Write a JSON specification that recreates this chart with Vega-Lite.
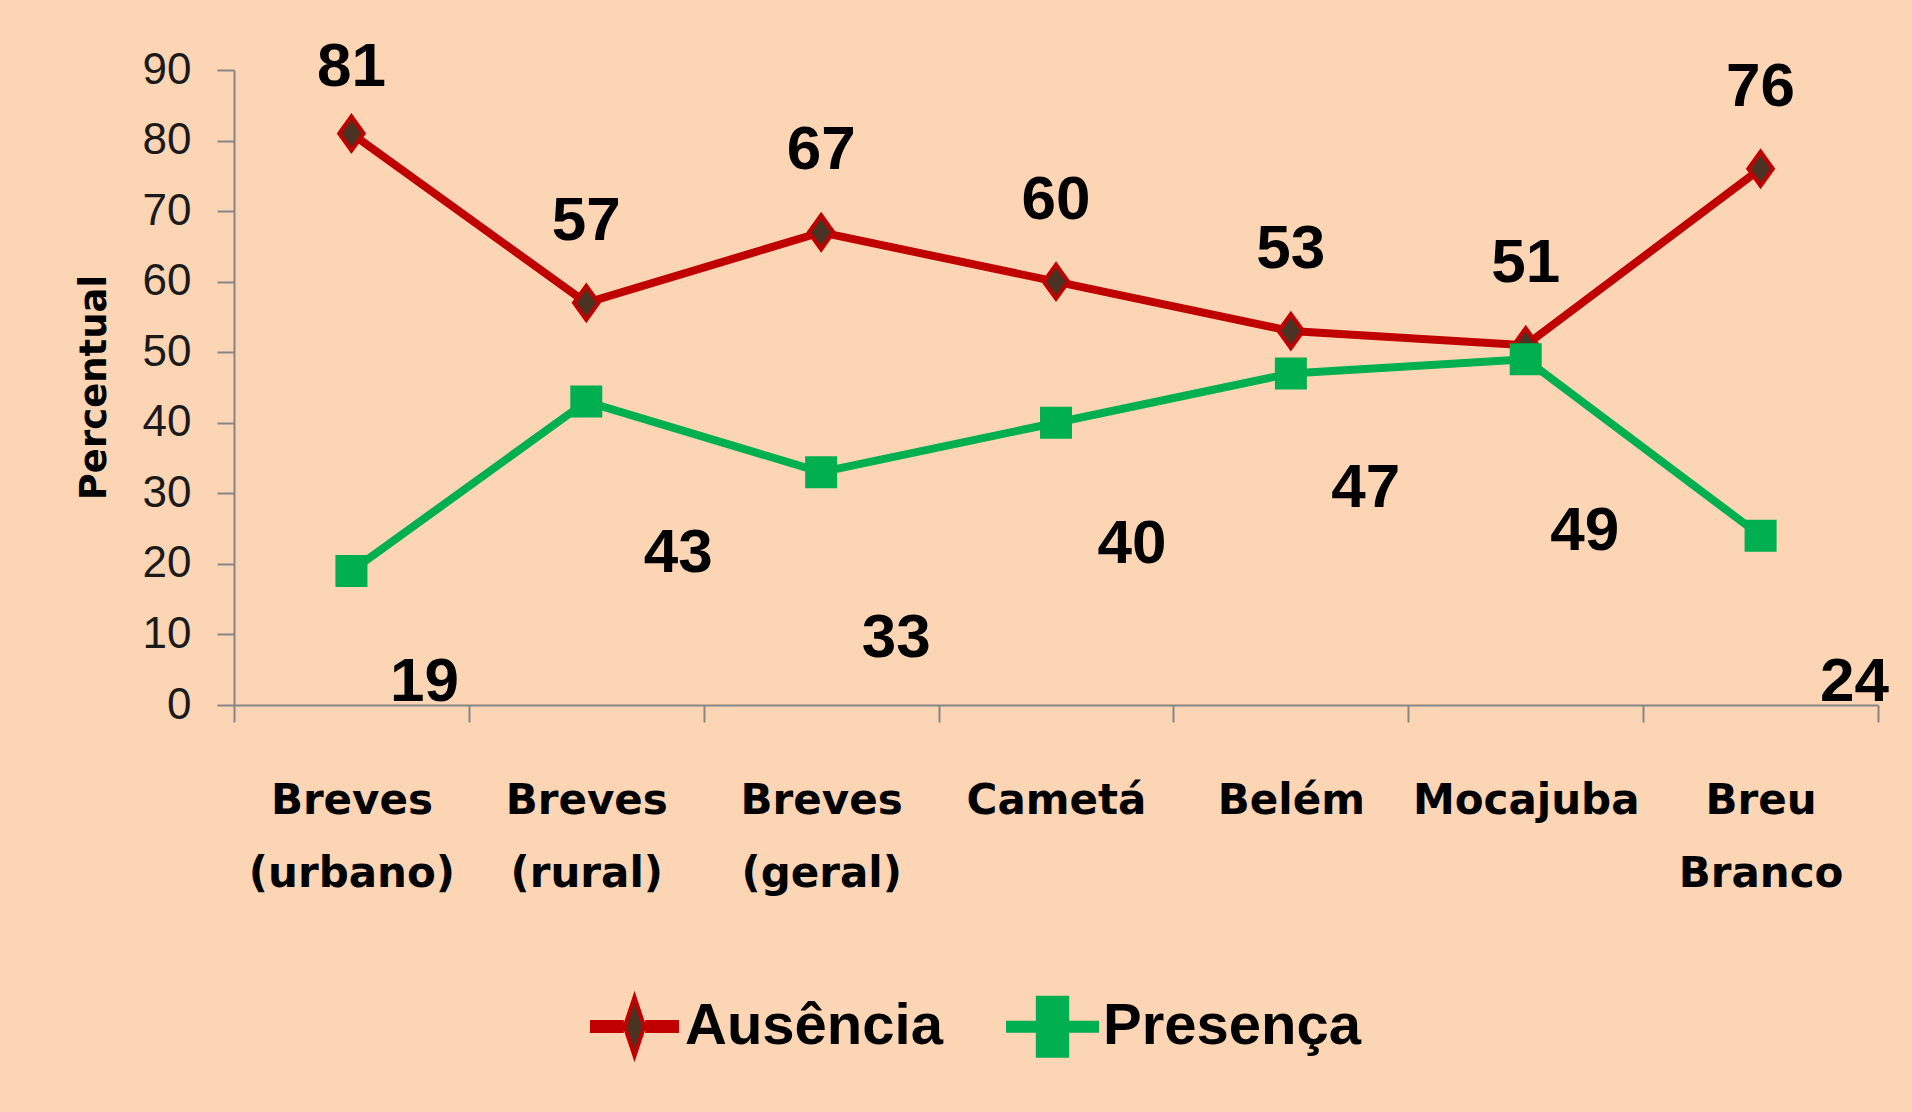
{
  "$schema": "https://vega.github.io/schema/vega-lite/v6.json",
  "width": 1644,
  "height": 635,
  "autosize": {"type": "none"},
  "padding": {"left": 234, "top": 70, "right": 34, "bottom": 407},
  "background": "#FCD5B5",
  "config": {"view": {"stroke": null}},
  "data": {
    "values": [
      {"local": "Breves (urbano)", "serie": "Ausência", "valor": 81},
      {"local": "Breves (rural)", "serie": "Ausência", "valor": 57},
      {"local": "Breves (geral)", "serie": "Ausência", "valor": 67},
      {"local": "Cametá", "serie": "Ausência", "valor": 60},
      {"local": "Belém", "serie": "Ausência", "valor": 53},
      {"local": "Mocajuba", "serie": "Ausência", "valor": 51},
      {"local": "Breu Branco", "serie": "Ausência", "valor": 76},
      {"local": "Breves (urbano)", "serie": "Presença", "valor": 19},
      {"local": "Breves (rural)", "serie": "Presença", "valor": 43},
      {"local": "Breves (geral)", "serie": "Presença", "valor": 33},
      {"local": "Cametá", "serie": "Presença", "valor": 40},
      {"local": "Belém", "serie": "Presença", "valor": 47},
      {"local": "Mocajuba", "serie": "Presença", "valor": 49},
      {"local": "Breu Branco", "serie": "Presença", "valor": 24}
    ]
  },
  "encoding": {
    "x": {
      "field": "local", "type": "nominal", "sort": null,
      "scale": {"type": "band", "paddingInner": 0, "paddingOuter": 0},
      "axis": {
        "title": null, "tickBand": "extent", "grid": false,
        "domainColor": "#868686", "domainWidth": 2,
        "tickColor": "#868686", "tickWidth": 2, "tickSize": 17,
        "labelAngle": 0, "labelFont": "DejaVu Sans", "labelFontWeight": "bold",
        "labelFontSize": 42, "labelColor": "#000000", "labelPadding": 58,
        "labelLineHeight": 73, "labelLimit": 0, "labelOverlap": false, "labelBaseline": "top",
        "labelExpr": "datum.label == 'Breu Branco' ? ['Breu', 'Branco'] : indexof(datum.label, ' (') > 0 ? [slice(datum.label, 0, indexof(datum.label, ' (')), slice(datum.label, indexof(datum.label, ' (') + 1)] : datum.label"
      }
    },
    "y": {
      "field": "valor", "type": "quantitative",
      "scale": {"domain": [0, 90], "nice": false},
      "axis": {
        "title": "Percentual", "values": [0, 10, 20, 30, 40, 50, 60, 70, 80, 90], "grid": false,
        "domainColor": "#868686", "domainWidth": 2,
        "tickColor": "#868686", "tickWidth": 2, "tickSize": 17,
        "labelFont": "Liberation Sans Narrow, Liberation Sans", "labelFontSize": 44, "labelColor": "#1a1a1a", "labelPadding": 26,
        "titleFont": "DejaVu Sans", "titleFontSize": 37, "titleFontWeight": "bold", "titleColor": "#000000",
        "titleX": -140, "titleY": 317, "titleAngle": -90, "titleAlign": "center", "titleBaseline": "middle"
      }
    }
  },
  "layer": [
    {
      "mark": {"type": "line", "strokeWidth": 8},
      "encoding": {
        "color": {
          "field": "serie", "type": "nominal",
          "scale": {"domain": ["Ausência", "Presença"], "range": ["#C00000", "#00B050"]},
          "legend": {
            "title": null, "orient": "none", "legendX": 354, "legendY": 910, "direction": "horizontal",
            "symbolSize": 7921, "symbolStrokeWidth": 4,
            "labelFont": "Liberation Sans", "labelFontSize": 58, "labelFontWeight": "bold", "labelColor": "#000000",
            "labelLimit": 0, "labelOffset": 4, "columnPadding": 57,
            "encode": {
              "symbols": {
                "update": {
                  "shape": {"signal": "datum.value === 'Ausência' ? 'M-1,0H-0.26M0.26,0H1M-1,-0.05H-0.25M0.25,-0.05H1M-1,0.05H-0.25M0.25,0.05H1M-1,-0.1H-0.24M0.24,-0.1H1M-1,0.1H-0.24M0.24,0.1H1M0,-0.66L0.22,0L0,0.66L-0.22,0Z' : 'M-1,-0.09H1V0.09H-1ZM-0.33,-0.65H0.33V0.65H-0.33Z'"},
                  "fill": {"signal": "datum.value === 'Ausência' ? '#4B3323' : '#00B050'"},
                  "stroke": {"signal": "datum.value === 'Ausência' ? '#C00000' : '#00B050'"},
                  "strokeWidth": {"value": 4},
                  "opacity": {"value": 1},
                  "fillOpacity": {"value": 1},
                  "strokeOpacity": {"value": 1}
                }
              }
            }
          }
        }
      }
    },
    {
      "transform": [{"filter": "datum.serie === 'Ausência'"}],
      "mark": {"type": "point", "shape": "M0,-1L0.72,0L0,1L-0.72,0Z", "size": 1156, "filled": true, "fill": "#4B3323", "stroke": "#C00000", "strokeWidth": 4, "opacity": 1}
    },
    {
      "transform": [{"filter": "datum.serie === 'Presença'"}],
      "mark": {"type": "point", "shape": "square", "size": 1024, "filled": true, "color": "#00B050", "opacity": 1}
    },
    {
      "transform": [{"filter": "datum.serie === 'Ausência' && datum.local !== 'Breves (urbano)'"}],
      "mark": {"type": "text", "font": "Liberation Sans", "fontWeight": "bold", "fontSize": 62, "color": "#000000", "align": "center", "baseline": "middle", "dy": -82},
      "encoding": {"text": {"field": "valor", "type": "quantitative"}}
    },
    {
      "transform": [{"filter": "datum.serie === 'Ausência' && datum.local === 'Breves (urbano)'"}],
      "mark": {"type": "text", "font": "Liberation Sans", "fontWeight": "bold", "fontSize": 62, "color": "#000000", "align": "center", "baseline": "middle", "dy": -67},
      "encoding": {"text": {"field": "valor", "type": "quantitative"}}
    },
    {
      "transform": [{"filter": "datum.serie === 'Presença' && datum.local === 'Breves (urbano)'"}],
      "mark": {"type": "text", "font": "Liberation Sans", "fontWeight": "bold", "fontSize": 62, "color": "#000000", "align": "center", "baseline": "middle", "dx": 73, "dy": 111},
      "encoding": {"text": {"field": "valor", "type": "quantitative"}}
    },
    {
      "transform": [{"filter": "datum.serie === 'Presença' && datum.local === 'Breves (rural)'"}],
      "mark": {"type": "text", "font": "Liberation Sans", "fontWeight": "bold", "fontSize": 62, "color": "#000000", "align": "center", "baseline": "middle", "dx": 92, "dy": 151},
      "encoding": {"text": {"field": "valor", "type": "quantitative"}}
    },
    {
      "transform": [{"filter": "datum.serie === 'Presença' && datum.local === 'Breves (geral)'"}],
      "mark": {"type": "text", "font": "Liberation Sans", "fontWeight": "bold", "fontSize": 62, "color": "#000000", "align": "center", "baseline": "middle", "dx": 75, "dy": 166},
      "encoding": {"text": {"field": "valor", "type": "quantitative"}}
    },
    {
      "transform": [{"filter": "datum.serie === 'Presença' && datum.local === 'Cametá'"}],
      "mark": {"type": "text", "font": "Liberation Sans", "fontWeight": "bold", "fontSize": 62, "color": "#000000", "align": "center", "baseline": "middle", "dx": 76, "dy": 121},
      "encoding": {"text": {"field": "valor", "type": "quantitative"}}
    },
    {
      "transform": [{"filter": "datum.serie === 'Presença' && datum.local === 'Belém'"}],
      "mark": {"type": "text", "font": "Liberation Sans", "fontWeight": "bold", "fontSize": 62, "color": "#000000", "align": "center", "baseline": "middle", "dx": 75, "dy": 115},
      "encoding": {"text": {"field": "valor", "type": "quantitative"}}
    },
    {
      "transform": [{"filter": "datum.serie === 'Presença' && datum.local === 'Mocajuba'"}],
      "mark": {"type": "text", "font": "Liberation Sans", "fontWeight": "bold", "fontSize": 62, "color": "#000000", "align": "center", "baseline": "middle", "dx": 59, "dy": 172},
      "encoding": {"text": {"field": "valor", "type": "quantitative"}}
    },
    {
      "transform": [{"filter": "datum.serie === 'Presença' && datum.local === 'Breu Branco'"}],
      "mark": {"type": "text", "font": "Liberation Sans", "fontWeight": "bold", "fontSize": 62, "color": "#000000", "align": "center", "baseline": "middle", "dx": 94, "dy": 146},
      "encoding": {"text": {"field": "valor", "type": "quantitative"}}
    }
  ]
}
